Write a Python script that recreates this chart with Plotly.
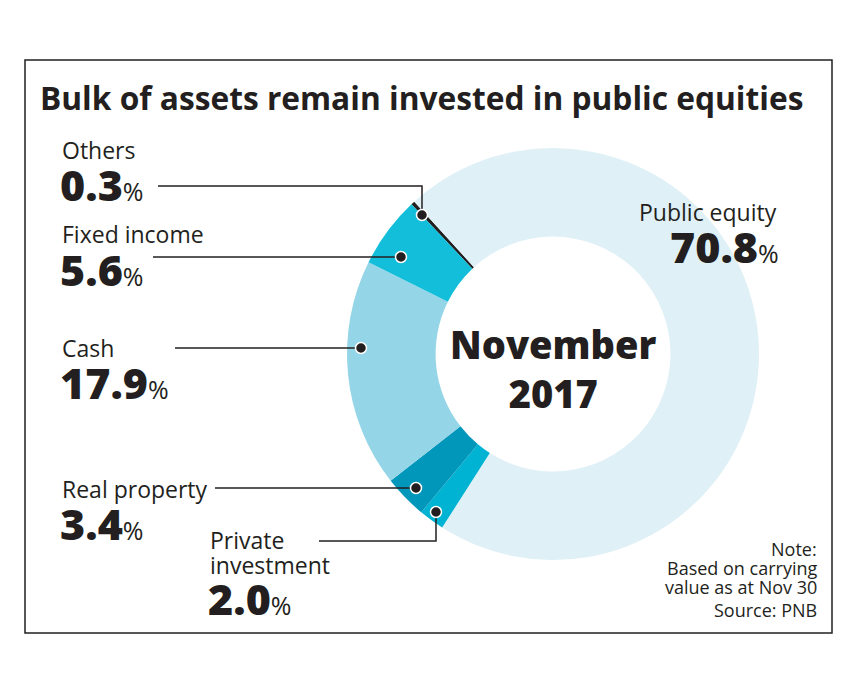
import plotly.graph_objects as go

# ---- data ----
categories = ["Others", "Public equity", "Private investment", "Real property", "Cash", "Fixed income"]
shares = [0.3, 70.8, 2.0, 3.4, 17.9, 5.6]
colors = ["#231f20", "#dff0f6", "#00b3d3", "#0097bb", "#94d5e7", "#12bed9"]
value_labels = ["0.3", "70.8", "2.0", "3.4", "17.9", "5.6"]
note_lines = ["Note:", "Based on carrying", "value as at Nov 30", "Source: PNB"]

# page body has an 8px margin; coordinates below are window pixels
OFF = 8
W, H = 858 - 2 * OFF, 700 - 2 * OFF
CX, CY, R = 553, 354, 206


def px(x, y):
    return (x - OFF) / W, 1 - (y - OFF) / H


fig = go.Figure(go.Pie(
    labels=categories,
    values=shares,
    sort=False,
    direction="clockwise",
    rotation=316.6,
    hole=0.57,
    marker=dict(colors=colors, line=dict(width=0)),
    textinfo="none",
    hoverinfo="label+percent",
    domain=dict(x=[(CX - R - OFF) / W, (CX + R - OFF) / W],
                y=[1 - (CY + R - OFF) / H, 1 - (CY - R - OFF) / H]),
))

INK = "#231f20"
NAME_FONT = dict(family="Open Sans", size=23, color=INK)
annotations = []
shapes = []


def value_text(v):
    return ("<span style='font-size:43px;font-weight:800'>%s</span>"
            "<span style='font-size:25px'>%%</span>" % v)


def text_at(x, y, text, font, anchor="left"):
    xx, yy = px(x, y)
    annotations.append(dict(x=xx, y=yy, xref="paper", yref="paper", text=text,
                            showarrow=False, xanchor=anchor, yanchor="middle",
                            font=font, align=anchor))


def add_label(name, val, x, y_name, y_val, anchor="left"):
    text_at(x, y_name, name, NAME_FONT, anchor)
    text_at(x - (2 if anchor == "left" else -2), y_val, value_text(val),
            dict(family="Open Sans", size=25, color=INK), anchor)


lab = dict(zip(categories, value_labels))
add_label("Others", lab["Others"], 60, 150, 184)
add_label("Fixed income", lab["Fixed income"], 60, 234, 269)
add_label("Cash", lab["Cash"], 60, 348, 382)
add_label("Real property", lab["Real property"], 60, 489, 523)
add_label("Public equity", lab["Public equity"], 779, 212, 247, anchor="right")

# private investment (two-line name)
text_at(208, 540, "Private", NAME_FONT)
text_at(208, 565, "investment", NAME_FONT)
text_at(206, 598, value_text(lab["Private investment"]), dict(family="Open Sans", size=25, color=INK))

# centre text
xx, yy = px(CX, 368)
annotations.append(dict(x=xx, y=yy, xref="paper", yref="paper", text="November<br>2017",
                        showarrow=False, xanchor="center", yanchor="middle", align="center",
                        font=dict(family="Open Sans", size=38, color=INK, weight=800)))

# note
for line, y in zip(note_lines, [549, 568, 587, 610]):
    text_at(819, y, line, dict(family="Open Sans", size=18, color=INK), anchor="right")

# title
text_at(38, 98, "<b>Bulk of assets remain invested in public equities</b>",
        dict(family="Open Sans", size=31.7, color=INK))

# border box
x0, y0 = px(25, 60)
x1, y1 = px(832, 633)
shapes.append(dict(type="rect", xref="paper", yref="paper", x0=x0, y0=y1, x1=x1, y1=y0,
                   line=dict(color=INK, width=1.5), fillcolor="rgba(0,0,0,0)"))


def leader(points):
    path = "M " + " L ".join("%.5f,%.5f" % px(a, b) for a, b in points)
    shapes.append(dict(type="path", xref="paper", yref="paper", path=path,
                       line=dict(color=INK, width=1.5)))


def dot(x, y):
    r = 5.5
    a0, b0 = px(x - r, y - r)
    a1, b1 = px(x + r, y + r)
    shapes.append(dict(type="circle", xref="paper", yref="paper", x0=a0, y0=b1, x1=a1, y1=b0,
                       fillcolor=INK, line=dict(color="white", width=1.5)))


leader([(158, 186), (422, 186), (422, 215)])
leader([(153, 257), (401, 257)])
leader([(175, 348), (361, 348)])
leader([(215, 488), (416, 488)])
leader([(319, 541), (436, 541), (436, 512)])
for d in [(422, 215), (401, 257), (361, 348), (416, 488), (436, 512)]:
    dot(*d)

fig.update_layout(
    width=W, height=H,
    margin=dict(l=0, r=0, t=0, b=0),
    paper_bgcolor="white",
    plot_bgcolor="white",
    showlegend=False,
    annotations=annotations,
    shapes=shapes,
)

fig.write_html("out.html")
